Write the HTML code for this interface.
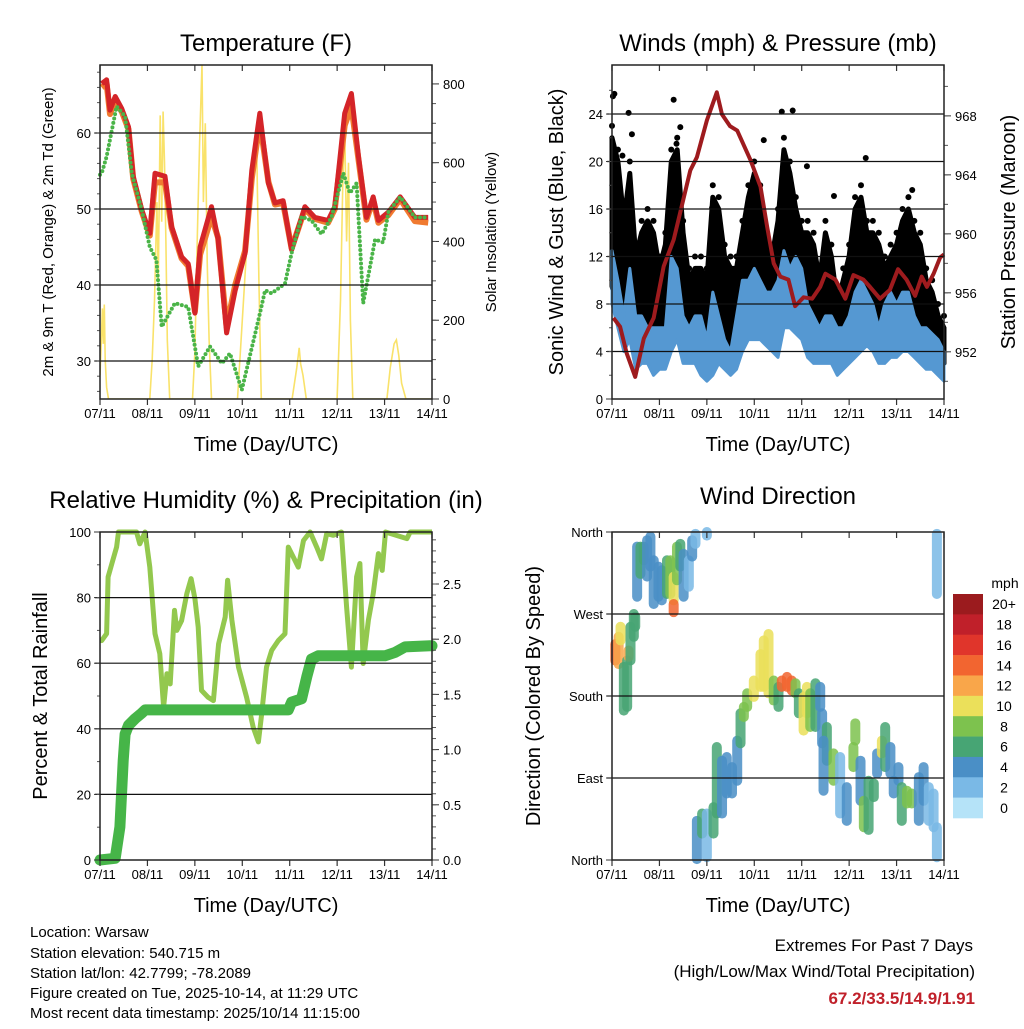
<!DOCTYPE html>
<html><head><meta charset="utf-8">
<style>
html,body{margin:0;padding:0;background:#fff;}
svg text{font-family:"Liberation Sans",Arial,sans-serif;fill:#000;}
</style></head>
<body>
<svg id="chart" xmlns="http://www.w3.org/2000/svg" width="1024" height="1024" viewBox="0 0 1024 1024">
<rect x="0" y="0" width="1024" height="1024" fill="#fff"/>
<text x="266" y="51" font-size="24" text-anchor="middle">Temperature (F)</text>
<text x="778" y="51" font-size="24" text-anchor="middle">Winds (mph) &amp; Pressure (mb)</text>
<text x="266" y="508" font-size="24" text-anchor="middle">Relative Humidity (%) &amp; Precipitation (in)</text>
<text x="778" y="504" font-size="24" text-anchor="middle">Wind Direction</text>
<text x="266" y="451" font-size="20" text-anchor="middle">Time (Day/UTC)</text>
<text x="778" y="451" font-size="20" text-anchor="middle">Time (Day/UTC)</text>
<text x="266" y="912" font-size="20" text-anchor="middle">Time (Day/UTC)</text>
<text x="778" y="912" font-size="20" text-anchor="middle">Time (Day/UTC)</text>
<text transform="translate(53,232) rotate(-90)" font-size="15" text-anchor="middle">2m &amp; 9m T (Red, Orange) &amp; 2m Td (Green)</text>
<text transform="translate(496,232) rotate(-90)" font-size="15" text-anchor="middle">Solar Insolation (Yellow)</text>
<text transform="translate(563,232) rotate(-90)" font-size="20" text-anchor="middle">Sonic Wind &amp; Gust (Blue, Black)</text>
<text transform="translate(1015,232) rotate(-90)" font-size="20" text-anchor="middle">Station Pressure (Maroon)</text>
<text transform="translate(47,696) rotate(-90)" font-size="20" text-anchor="middle">Percent &amp; Total Rainfall</text>
<text transform="translate(540,696) rotate(-90)" font-size="20" text-anchor="middle">Direction (Colored By Speed)</text>
<g font-size="15">
<text x="30" y="937">Location: Warsaw</text>
<text x="30" y="958">Station elevation: 540.715 m</text>
<text x="30" y="978">Station lat/lon: 42.7799; -78.2089</text>
<text x="30" y="998">Figure created on Tue, 2025-10-14, at 11:29 UTC</text>
<text x="30" y="1018">Most recent data timestamp: 2025/10/14 11:15:00</text>
</g>
<g>
<text x="973" y="951" font-size="17" text-anchor="end">Extremes For Past 7 Days</text>
<text x="975" y="977" font-size="17" text-anchor="end">(High/Low/Max Wind/Total Precipitation)</text>
<text x="975" y="1004" font-size="17" font-weight="bold" text-anchor="end" style="fill:#c0202a">67.2/33.5/14.9/1.91</text>
</g>
</svg>
<script>
// ---------- DATA ----------
const dayLabels = ["07/11","08/11","09/11","10/11","11/11","12/11","13/11","14/11"];
const tempDays = [0.035,0.14,0.21,0.32,0.46,0.60,0.70,0.88,1.05,1.16,1.37,1.51,1.72,1.86,2.00,2.11,2.35,2.49,2.67,2.85,3.06,3.20,3.37,3.55,3.69,3.86,4.04,4.32,4.53,4.81,4.95,5.16,5.30,5.45,5.62,5.76,5.87,6.08,6.33,6.64,6.92];
const temp2m = [66.5,67,63,64.8,63.2,60.8,54.3,49.9,46.8,54.7,54.3,47.7,43.7,42.8,36.3,45,50.3,46.0,33.7,39.3,44.2,55.1,62.6,53.4,50.8,51.1,44.6,50.3,48.9,48.5,50.3,62.6,65.2,56.9,48.9,51.6,48.5,49.6,51.6,48.9,48.9];
const temp9m = [66,66.5,62.5,64.3,62.8,60.5,54,49.7,46.5,53.5,53.5,47.5,43.5,42.5,36.5,44,49,46.2,34.5,40,44.5,54,61.5,53.6,50.6,50.8,44.8,50,48.7,48.2,50,61,63.5,56.5,48.6,51.2,48.2,49.2,51.3,48.4,48.2];
const dewDays = [0.0,0.035,0.14,0.35,0.53,0.67,0.88,1.05,1.19,1.30,1.58,1.86,2.07,2.32,2.57,2.74,2.99,3.34,3.48,3.62,3.90,4.04,4.25,4.46,4.67,4.88,5.13,5.27,5.41,5.55,5.80,5.97,6.08,6.33,6.64,6.92];
const dewPoint = [54.5,54.7,56.9,63.5,62.2,54.7,49.9,45.0,43.3,34.5,37.6,37.1,29.3,31.9,29.7,31.0,26.2,35.4,39.3,38.9,40.2,44.2,49.0,48.5,46.7,48.9,54.7,52.1,53.4,37.6,46.0,45.6,49.6,51.6,48.9,48.9];
const solarDays = [0,0.02,0.05,0.07,0.09,0.11,0.14,0.18,1.05,1.1,1.15,1.2,1.23,1.27,1.3,1.33,1.36,1.39,1.42,1.47,1.95,2.0,2.05,2.1,2.15,2.18,2.22,2.26,2.3,2.35,2.9,2.95,3.05,3.15,3.25,3.3,3.35,3.4,4.05,4.15,4.2,4.23,4.28,4.35,5.0,5.07,5.12,5.16,5.2,5.24,5.28,5.33,6.05,6.12,6.2,6.25,6.3,6.36,6.45,7];
const solar = [60,120,230,140,240,100,30,0,0,100,250,500,300,720,450,730,600,400,150,0,0,120,400,650,850,500,700,350,150,0,0,100,300,500,620,670,300,0,0,80,130,90,60,0,0,250,550,690,400,600,200,0,0,80,140,150,110,40,0,0];

const windDays = [0,0.125,0.25,0.375,0.5,0.625,0.75,0.875,1,1.125,1.25,1.375,1.5,1.625,1.75,1.875,2,2.125,2.25,2.375,2.5,2.625,2.75,2.875,3,3.125,3.25,3.375,3.5,3.625,3.75,3.875,4,4.125,4.25,4.375,4.5,4.625,4.75,4.875,5,5.125,5.25,5.375,5.5,5.625,5.75,5.875,6,6.125,6.25,6.375,6.5,6.625,6.75,6.875,7];
const windHi = [12.5,10,7,11,7,7,6,6,6,6,12,11,7,6,7,7,5,9,7,5,4,7,10,10,11,10,9,9,10,12.5,11,12,11,8,7,6,7,7,6,6,7,9,10,9,8,6,8,9,8,9,9,7,6,6,5.5,5,4];
const windLo = [8,6,4,5,2.5,3,3,2,2.5,2.5,4,5,3,3,3,2,1.5,2,3,2.5,2,2.5,4,5,5,5,4.5,4,3.5,6,6,5.5,5,3.5,3,3,3,3,2,2.5,3,3.5,4,4.5,4,3,3,3.5,3.5,4,4,3.5,3,2.5,2.5,2,1.5];
const gustHi = [22,20,15,19,12,14,15,14,11,13,20,21,14,10,11,11,10,17,16,12,11,11,14,17,19,17,13,12,15,21,19,16,14,14,13,10,14,12,8,10,12,16,17,14,14,13,11,12,13,15,16,14,13,10,9,7,6];
const gustPeakDays = [0.02,0.05,0.22,0.35,0.42,1.3,1.36,1.44,2.11,3.2,3.58,3.81,4.11,4.68,5.35,6.33];
const gustPeaks = [25.5,25.7,20.5,24.1,22.3,25.2,21.5,22.9,16.1,21.8,24.2,24.3,19.6,17.1,20.3,17.6];
const pressDays = [0.03,0.17,0.31,0.49,0.67,0.88,1.09,1.30,1.65,1.79,2.00,2.21,2.32,2.49,2.64,2.92,3.13,3.27,3.41,3.55,3.72,3.86,4.04,4.22,4.39,4.50,4.71,4.92,5.09,5.30,5.44,5.65,5.86,6.03,6.21,6.39,6.53,6.64,6.78,6.92,7.0];
const pressure = [954.3,953.7,951.9,950.3,952.9,954.3,957.8,959.6,964.3,965.2,967.7,969.6,968.1,967.3,967.0,965.0,963.2,960.5,958.0,957.1,956.9,955.1,955.7,955.6,956.4,957.3,956.9,955.6,957.2,956.9,956.4,955.6,956.2,957.6,956.9,955.8,957.1,956.4,957.3,958.4,958.6];

const rhDays = [0.0,0.035,0.14,0.17,0.25,0.35,0.39,0.77,0.84,0.95,1.05,1.16,1.26,1.34,1.41,1.48,1.57,1.62,1.72,1.83,1.92,2.0,2.07,2.14,2.28,2.39,2.50,2.64,2.69,2.78,2.92,3.09,3.23,3.34,3.41,3.51,3.62,3.76,3.90,3.97,4.11,4.18,4.29,4.43,4.57,4.67,4.78,4.92,5.09,5.20,5.30,5.41,5.48,5.55,5.66,5.76,5.87,5.95,6.02,6.47,6.54,7.0];
const rh = [67,66.9,69,86.3,90.4,95.4,100,100,96.4,100,89.3,69,62.9,46.6,56.8,53.7,76.1,70,73,81.2,85.8,79.7,71,51.7,49.6,48.6,65.9,74.1,85.3,73.1,58.8,49.6,40.5,36,44.6,58.8,63.9,66.9,69,95.4,91.4,89.3,97.4,100,95.4,91.8,99.5,99,100,77.1,58.8,86.3,90.4,59.9,73.1,81.2,93.4,88.3,100,98,100,100];
const precipDays = [0,0.32,0.42,0.49,0.53,0.60,0.74,0.88,0.95,1.30,3.97,4.04,4.25,4.36,4.46,4.60,6.01,6.22,6.43,6.96,7.0];
const precip = [0,0.015,0.30,0.90,1.14,1.22,1.28,1.33,1.36,1.36,1.36,1.43,1.46,1.66,1.82,1.85,1.85,1.88,1.93,1.94,1.94];

const dirDays = [0.07,0.14,0.18,0.25,0.32,0.35,0.39,0.46,0.49,0.53,0.60,0.67,0.74,0.81,0.88,0.98,1.05,1.16,1.23,1.30,1.30,1.37,1.44,1.51,1.62,1.69,1.76,2.00,6.85,1.79,1.90,2.00,2.14,2.21,2.32,2.42,2.53,2.64,2.71,2.78,2.85,2.99,3.13,3.20,3.30,3.41,3.51,3.58,3.69,3.79,3.87,3.94,4.04,4.11,4.18,4.29,4.39,4.43,4.53,4.46,4.67,4.81,4.95,5.09,5.13,5.24,5.31,5.41,5.52,5.59,5.69,5.76,5.87,5.94,6.04,6.11,6.22,6.32,6.47,6.57,6.68,6.78,6.85];
const dirHi = [237,245,256,212,219,230,256,270,267,344,344,344,351,355,329,322,318,329,329,311,281,344,347,336,329,351,358,360,358,43,51,51,58,124,109,113,102,131,161,168,183,197,226,241,248,197,190,197,201,197,194,183,179,190,183,194,190,161,146,131,117,113,80,124,150,109,65,87,84,117,131,146,124,87,102,80,76,73,91,102,80,73,36];
const dirLo = [219,215,241,164,168,223,219,245,256,289,314,329,311,322,281,289,285,292,292,285,272,307,322,289,300,333,347,356,292,1,29,3,29,51,51,73,73,87,128,157,168,179,190,190,183,175,168,190,190,186,183,161,142,161,146,146,168,128,109,76,87,51,43,102,131,65,36,33,69,95,117,102,95,73,87,43,62,62,43,65,43,36,3];
const dirSpeed = [14,12,10,6,7,12,6,6,7,4,6,6,5,5,4,4,4,7,9,10,14,8,7,5,3,4,3,2,3,4,6,3,7,6,5,4,4,4,6,9,9,11,10,10,10,8,6,15,15,15,9,7,10,10,9,6,4,5,6,4,8,3,4,8,8,5,9,7,6,5,10,6,5,4,4,7,8,9,4,5,3,3,2];
const speedBins = [0,2,4,6,8,10,12,14,16,18,20];
const speedLabels = ["0","2","4","6","8","10","12","14","16","18","20+"];
const speedColors = ["#b5e3f8","#7ab9e6","#4a8fc6","#47a574","#7dc24e","#ebe05a","#f9a64a","#f26530","#e0352b","#c0202a","#9b1b1e"];

// ---------- HELPERS ----------
const NS = "http://www.w3.org/2000/svg";
const svg = document.getElementById("chart");
function lin(d0,d1,r0,r1){return v=>r0+(v-d0)*(r1-r0)/(d1-d0);}
function el(tag,parent){const e=document.createElementNS(NS,tag);(parent||svg).appendChild(e);return e;}
function pts(xs,ys,fx,fy){return xs.map((d,i)=>fx(d).toFixed(1)+","+fy(ys[i]).toFixed(1)).join(" ");}
function colorFor(s){let i=0;for(let k=0;k<speedBins.length;k++){if(s>=speedBins[k])i=k;}return speedColors[i];}

function frame(name,x0,x1,y0,y1,grid,fyL,leftTicks,leftLabels,fyR,rightTicks,rightLabels,minorL,minorR){
  const g=el("g");
  
  
  grid.forEach(v=>{const l=el("line",g);l.setAttribute("x1",x0-5);l.setAttribute("x2",x1);l.setAttribute("y1",fyL(v));l.setAttribute("y2",fyL(v));l.setAttribute("stroke","#111");l.setAttribute("stroke-width","1.2");
    
    });
  const fx=lin(0,7,x0,x1);
  for(let d=0;d<=7;d++){
    [[y1,y1+6],[y0,y0+6]].forEach(p=>{const t=el("line",g);t.setAttribute("x1",fx(d));t.setAttribute("x2",fx(d));t.setAttribute("y1",p[0]===y1?y1:y0);t.setAttribute("y2",p[0]===y1?y1+6:y0+6);t.setAttribute("stroke","#333");t.setAttribute("stroke-width","1.2");});
    const tx=el("text",g);tx.setAttribute("x",fx(d));tx.setAttribute("y",y1+19);tx.setAttribute("font-size","13");tx.setAttribute("text-anchor","middle");tx.textContent=dayLabels[d];
    
    
  }
  leftTicks.forEach((v,i)=>{const t=el("line",g);t.setAttribute("x1",x0-6);t.setAttribute("x2",x0);t.setAttribute("y1",fyL(v));t.setAttribute("y2",fyL(v));t.setAttribute("stroke","#333");
    const tx=el("text",g);tx.setAttribute("x",x0-9);tx.setAttribute("y",fyL(v)+5);tx.setAttribute("font-size","13");tx.setAttribute("text-anchor","end");tx.textContent=leftLabels[i];
    
    });
  (minorL||[]).forEach(v=>{const t=el("line",g);t.setAttribute("x1",x0-3);t.setAttribute("x2",x0);t.setAttribute("y1",fyL(v));t.setAttribute("y2",fyL(v));t.setAttribute("stroke","#555");});
  if(fyR){
    rightTicks.forEach((v,i)=>{const t=el("line",g);t.setAttribute("x1",x1);t.setAttribute("x2",x1+7);t.setAttribute("y1",fyR(v));t.setAttribute("y2",fyR(v));t.setAttribute("stroke","#333");
      const tx=el("text",g);tx.setAttribute("x",x1+11);tx.setAttribute("y",fyR(v)+5);tx.setAttribute("font-size","13");tx.textContent=rightLabels[i];
      
      });
    (minorR||[]).forEach(v=>{const t=el("line",g);t.setAttribute("x1",x1);t.setAttribute("x2",x1+4);t.setAttribute("y1",fyR(v));t.setAttribute("y2",fyR(v));t.setAttribute("stroke","#555");});
  }
  const b=el("rect",g);b.setAttribute("x",x0);b.setAttribute("y",y0);b.setAttribute("width",x1-x0);b.setAttribute("height",y1-y0);b.setAttribute("fill","none");b.setAttribute("stroke","#222");b.setAttribute("stroke-width","1.5");
  
  
  return fx;
}
function range(a,b,s){const r=[];for(let v=a;v<=b+1e-9;v+=s)r.push(+v.toFixed(3));return r;}

// ---------- PANEL 1: TEMPERATURE ----------
(function(){
  const x0=100,x1=432,y0=65,y1=399;
  const fy=lin(25,68.95,y1,y0), fs=lin(0,848,y1,y0), fx=lin(0,7,x0,x1);
  const g=el("g");
  
  
  const clip=el("clipPath",g);clip.setAttribute("id","c1");const cr=el("rect",clip);cr.setAttribute("x",x0);cr.setAttribute("y",y0);cr.setAttribute("width",x1-x0);cr.setAttribute("height",y1-y0);
  const s=el("polyline",g);s.setAttribute("points",pts(solarDays,solar,fx,fs));s.setAttribute("fill","none");s.setAttribute("stroke","#f9e26a");s.setAttribute("stroke-width","1.6");s.setAttribute("clip-path","url(#c1)");
  
  
  const o=el("polyline",g);o.setAttribute("points",pts(tempDays,temp9m,fx,fy));o.setAttribute("fill","none");o.setAttribute("stroke","#f07a30");o.setAttribute("stroke-width","6");o.setAttribute("stroke-linejoin","round");
  
  
  const r=el("polyline",g);r.setAttribute("points",pts(tempDays,temp2m,fx,fy));r.setAttribute("fill","none");r.setAttribute("stroke","#d42428");r.setAttribute("stroke-width","5");r.setAttribute("stroke-linejoin","round");
  
  
  const d=el("polyline",g);d.setAttribute("points",pts(dewDays,dewPoint,fx,fy));d.setAttribute("fill","none");d.setAttribute("stroke","#4ab448");d.setAttribute("stroke-width","4");d.setAttribute("stroke-linecap","round");d.setAttribute("stroke-dasharray","0 4.5");
  
  
  frame("temperature",x0,x1,y0,y1,[30,40,50,60],fy,[30,40,50,60],["30","40","50","60"],fs,[0,200,400,600,800],["0","200","400","600","800"],range(26,68,2),range(50,800,50));
})();

// ---------- PANEL 2: WINDS ----------
(function(){
  const x0=612,x1=944,y0=65,y1=399;
  const fy=lin(0,28.13,y1,y0), fp=lin(948.8,971.45,y1,y0), fx=lin(0,7,x0,x1);
  const g=el("g");
  
  
  const lo=windDays.map((d,i)=>windLo[i]+1.5);
  const gp=el("polygon",g);gp.setAttribute("points",pts(windDays,gustHi,fx,fy)+" "+pts(windDays.slice().reverse(),lo.slice().reverse(),fx,fy));gp.setAttribute("fill","#000");gp.setAttribute("stroke","#000");gp.setAttribute("stroke-width","5");gp.setAttribute("stroke-linejoin","round");
  
  
  windDays.forEach((d,i)=>{const c=el("circle",g);c.setAttribute("cx",fx(d));c.setAttribute("cy",fy(gustHi[i]+1));c.setAttribute("r","3");c.setAttribute("fill","#000");
    
    });
  gustPeakDays.forEach((d,i)=>{const c=el("circle",g);c.setAttribute("cx",fx(d));c.setAttribute("cy",fy(gustPeaks[i]));c.setAttribute("r","3");c.setAttribute("fill","#000");
    
    });
  const wp=el("polygon",g);wp.setAttribute("points",pts(windDays,windHi,fx,fy)+" "+pts(windDays.slice().reverse(),windLo.slice().reverse(),fx,fy));wp.setAttribute("fill","#5598d2");wp.setAttribute("stroke","#5598d2");wp.setAttribute("stroke-width","3");wp.setAttribute("stroke-linejoin","round");
  
  
  const p=el("polyline",g);p.setAttribute("points",pts(pressDays,pressure,fx,fp));p.setAttribute("fill","none");p.setAttribute("stroke","#9e1b1e");p.setAttribute("stroke-width","4");p.setAttribute("stroke-linejoin","round");
  
  
  frame("winds",x0,x1,y0,y1,[4,8,12,16,20,24],fy,[0,4,8,12,16,20,24],["0","4","8","12","16","20","24"],fp,[952,956,960,964,968],["952","956","960","964","968"],range(2,26,2),range(950,970,2));
})();

// ---------- PANEL 3: HUMIDITY ----------
(function(){
  const x0=100,x1=432,y0=532,y1=860;
  const fy=lin(0,100,y1,y0), fr=lin(0,2.971,y1,y0), fx=lin(0,7,x0,x1);
  const g=el("g");
  
  
  const h=el("polyline",g);h.setAttribute("points",pts(rhDays,rh,fx,fy));h.setAttribute("fill","none");h.setAttribute("stroke","#93c84e");h.setAttribute("stroke-width","5");h.setAttribute("stroke-linejoin","round");
  
  
  const p=el("polyline",g);p.setAttribute("points",pts(precipDays,precip,fx,fr));p.setAttribute("fill","none");p.setAttribute("stroke","#46b548");p.setAttribute("stroke-width","11");p.setAttribute("stroke-linejoin","round");p.setAttribute("stroke-linecap","round");
  
  
  frame("humidity",x0,x1,y0,y1,[20,40,60,80],fy,[0,20,40,60,80,100],["0","20","40","60","80","100"],fr,[0,0.5,1,1.5,2,2.5],["0.0","0.5","1.0","1.5","2.0","2.5"],range(10,90,10),range(0.1,2.9,0.1));
})();

// ---------- PANEL 4: WIND DIRECTION ----------
(function(){
  const x0=612,x1=944,y0=532,y1=860;
  const fy=lin(0,360,y1,y0), fx=lin(0,7,x0,x1);
  const g=el("g");
  
  
  dirDays.forEach((d,i)=>{const l=el("line",g);l.setAttribute("x1",fx(d));l.setAttribute("x2",fx(d));l.setAttribute("y1",fy(dirHi[i]));l.setAttribute("y2",fy(dirLo[i]));l.setAttribute("stroke",colorFor(dirSpeed[i]));l.setAttribute("stroke-width","10");l.setAttribute("stroke-linecap","round");l.setAttribute("opacity","0.85");
    
    });
  frame("direction",x0,x1,y0,y1,[90,180,270],fy,[0,90,180,270,360],["North","East","South","West","North"],null);
  const cb=el("g");
  
  
  const cy0=594,ch=224/11;
  for(let i=0;i<speedColors.length;i++){
    const k=speedColors.length-1-i;
    const r=el("rect",cb);r.setAttribute("x",953);r.setAttribute("y",cy0+i*ch);r.setAttribute("width",30);r.setAttribute("height",ch+0.3);r.setAttribute("fill",speedColors[k]);
    
    
    const t=el("text",cb);t.setAttribute("x",1004);t.setAttribute("y",cy0+i*ch+ch/2+5);t.setAttribute("font-size","14");t.setAttribute("text-anchor","middle");t.textContent=speedLabels[k];
    
    
  }
  const m=el("text",cb);m.setAttribute("x",1005);m.setAttribute("y",588);m.setAttribute("font-size","14");m.setAttribute("text-anchor","middle");m.textContent="mph";
  
  
})();
</script>
</body></html>
